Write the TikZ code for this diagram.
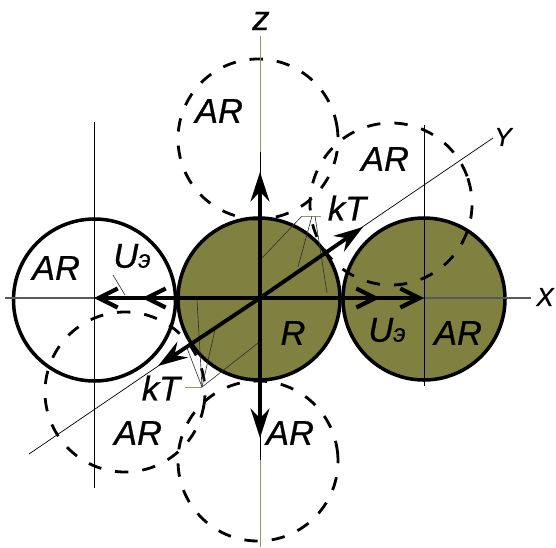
\documentclass[tikz,border=0pt]{standalone}
\usepackage{fontspec}
\setmainfont{Liberation Sans}[FakeBold=0.6]
\usetikzlibrary{arrows.meta}
\definecolor{olivefill}{RGB}{128,128,64}
\definecolor{olivethin}{RGB}{150,150,100}
\tikzset{
  ball/.style={circle, draw=black, line width=5pt, inner sep=0pt, minimum size=#1*1mm},
  ghost/.style={circle, draw=black, line width=4pt, dash pattern=on 19pt off 20pt, inner sep=0pt, minimum size=#1*1mm},
  thinaxis/.style={draw=black, line width=1pt},
  grayaxis/.style={draw=black!65, line width=1.6pt},
  oliveaxis/.style={draw=olivethin, line width=1.4pt},
  leader/.style={draw=black!80, line width=0.9pt},
  vecline/.style={draw=black, line width=5.5pt},
  barbvec/.style={vecline, -{Straight Barb[length=27pt,width=27pt,line width=6pt]}},
  tipvec/.style={vecline, -{Stealth[length=42pt,width=27pt,inset=14pt]}},
  lab/.style={font=\itshape\fontsize{49}{49}\selectfont, inner sep=0pt},
  axlab/.style={font=\itshape\fontsize{37}{37}\selectfont, inner sep=0pt}
}
\newcommand{\Uel}{U{\fontsize{36}{36}\selectfont э}}
\begin{document}
\begin{tikzpicture}[x=0.5mm,y=-0.5mm]
  \useasboundingbox (0,0) rectangle (556,547);
  % solid balls
  \node[ball=81, fill=white] (left) at (94.5,300) {};
  \node[ball=81, fill=olivefill] (center) at (259,299) {};
  \node[ball=81, fill=olivefill] (right) at (424,299) {};
  % dashed balls
  \node[ghost=80, rotate=8] (top) at (258,139) {};
  \node[ghost=81, rotate=20] (upper) at (391,204) {};
  \node[ghost=80, rotate=-12] (lower) at (125,392) {};
  \node[ghost=80, rotate=5] (bottom) at (258,461) {};
  % axes
  \coordinate (xa) at (5,298);
  \coordinate (xb) at (531,298);
  \coordinate (za) at (260,36);
  \coordinate (zc) at (260,152);
  \coordinate (zd) at (260,460);
  \coordinate (zb) at (260,547);
  \coordinate (ya) at (29,454);
  \coordinate (yb) at (493,138);
  \coordinate (la) at (94,122);
  \coordinate (lb) at (94,488);
  \coordinate (ra) at (424,125);
  \coordinate (rb) at (424,386);
  \draw[grayaxis] (xa) -- (xb);
  \draw[oliveaxis] (za) -- (zc);
  \draw[oliveaxis] (zd) -- (zb);
  \draw[thinaxis] (zc) -- (zd);
  \draw[thinaxis] (ya) -- (yb);
  \draw[thinaxis] (la) -- (lb);
  \draw[thinaxis] (ra) -- (rb);
  % kT leaders
  \coordinate (ka) at (302,216);
  \coordinate (kb) at (321,216);
  \coordinate (kc) at (312,216);
  \coordinate (kd) at (315,216);
  \coordinate (ke) at (185,387);
  \coordinate (kf) at (202,387);
  \draw[oliveaxis] (ka) -- (kb);
  \draw[oliveaxis] (ke) -- (kf);
  \draw[leader] (ka) -- (262,258);
  \draw[leader] (kc) -- (298,267);
  \draw[leader] (kd) -- (327,293);
  \draw[leader] (kf) -- (258,343);
  \draw[leader] (kf) -- (215,330);
  \draw[leader] (kf) -- (187,348);
  \draw[leader] (kf) -- (197,300);
  \draw[leader] (113,275) -- (125,295);
  % vectors
  \coordinate (o) at (260,298);
  \coordinate (xtip) at (424,298);
  \coordinate (xmid) at (380,298);
  \coordinate (wtip) at (94,298);
  \coordinate (wmid) at (142,298);
  \coordinate (ztip) at (260,172);
  \coordinate (dtip) at (260,438);
  \coordinate (ytip) at (363,227);
  \coordinate (vtip) at (158,366);
  \draw[barbvec] (o) -- (xtip);
  \draw[barbvec] (o) -- (xmid);
  \draw[barbvec] (o) -- (wtip);
  \draw[barbvec] (o) -- (wmid);
  \draw[tipvec] (o) -- (ztip);
  \draw[tipvec] (o) -- (dtip);
  \draw[tipvec] (o) -- (ytip);
  \draw[tipvec] (o) -- (vtip);
  % labels
  \node[lab] (zlab) at (261,21) {z};
  \node[axlab] (ylab) at (503,137) {Y};
  \node[axlab] (xlab) at (545,297) {X};
  \node[lab] (arTop) at (219,111) {AR};
  \node[lab] (arUpper) at (385,159) {AR};
  \node[lab] (arLeft) at (56,268) {AR};
  \node[lab] (arLower) at (138,433) {AR};
  \node[lab] (arBottom) at (290,433) {AR};
  \node[lab] (arRight) at (458,333) {AR};
  \node[lab] (rlab) at (293,333) {R};
  \node[lab] (ktUp) at (347,208) {kT};
  \node[lab] (ktDown) at (161,388) {kT};
  \node[lab] (uLeft) at (132,256) {\Uel};
  \node[lab] (uRight) at (387,330) {\Uel};
\end{tikzpicture}
\end{document}
